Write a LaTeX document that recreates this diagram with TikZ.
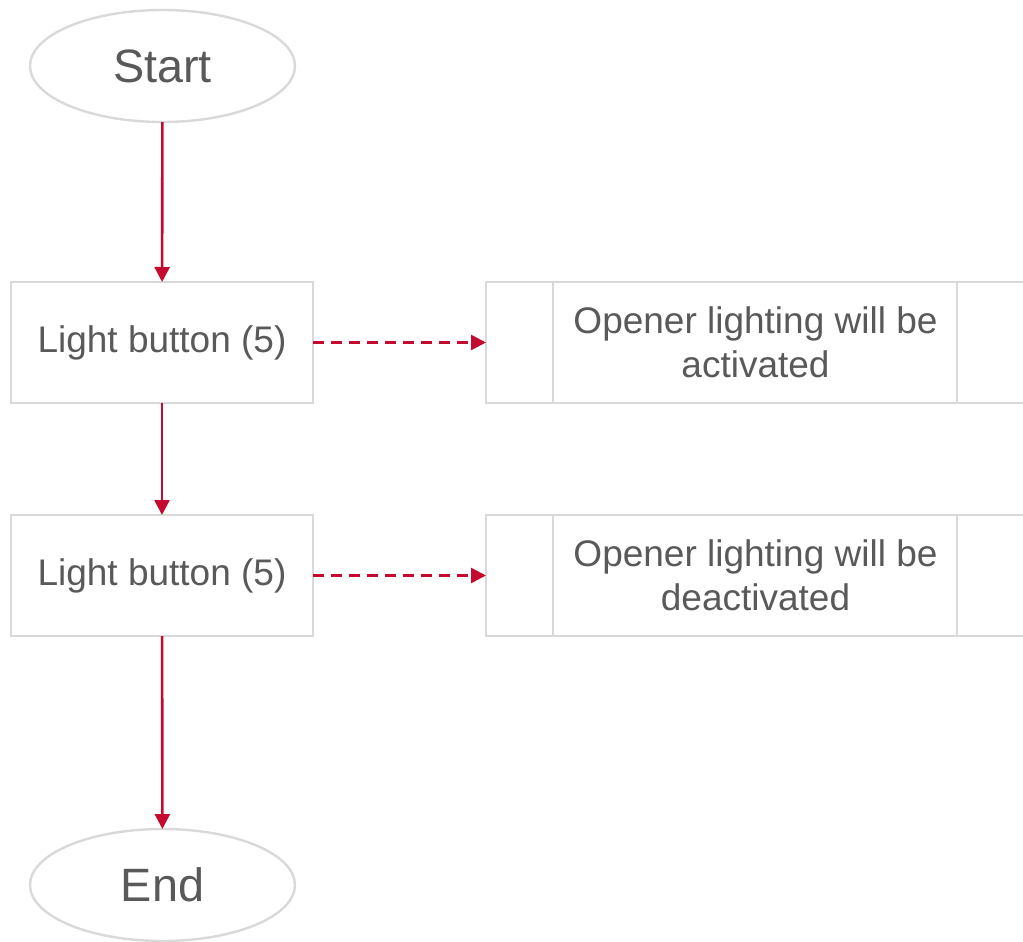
\documentclass[tikz,border=0pt]{standalone}
\usepackage{fontspec}
\setmainfont{Liberation Sans}
\usetikzlibrary{shapes.geometric,arrows.meta}
\definecolor{boxgray}{HTML}{D9D9D9}
\definecolor{textgray}{HTML}{595959}
\definecolor{flowred}{HTML}{C40A2E}
\tikzset{
  terminal/.style={ellipse, draw=boxgray, line width=1.2pt, text=textgray, outer sep=0pt,
    minimum width=132.5pt, minimum height=56pt, font=\fontsize{23.4}{28}\selectfont},
  stepbox/.style={rectangle, draw=boxgray, line width=1.2pt, text=textgray, outer sep=0pt,
    minimum width=151pt, minimum height=60.5pt, font=\fontsize{18.5}{22}\selectfont},
  procbox/.style={stepbox, minimum width=269.5pt, align=center},
  flow/.style={->, flowred, line width=1.3pt},
  signal/.style={flow, dash pattern=on 5.5pt off 3.5pt}
}
\begin{document}
\begin{tikzpicture}[x=0.5pt, y=-0.5pt, >={Triangle[length=7.5pt,width=7.5pt]}]
\useasboundingbox (0,0) rectangle (1023,942);
\node[terminal] (start) at (162.5,66) {Start};
\node[stepbox] (light1) at (162,342.5) {Light button (5)};
\node[stepbox] (light2) at (162,575.5) {Light button (5)};
\node[terminal] (end) at (162.5,885) {End};

\node[procbox] (act) at (755.5,342.5) {Opener lighting will be\\activated};
\node[procbox] (deact) at (755.5,575.5) {Opener lighting will be\\deactivated};
% inner bars of the process boxes
\foreach \p in {act, deact}{
  \draw[boxgray, line width=1.2pt] ([xshift=33.5pt]\p.north west) -- ([xshift=33.5pt]\p.south west);
  \draw[boxgray, line width=1.2pt] ([xshift=-34pt]\p.north east) -- ([xshift=-34pt]\p.south east);
}

\draw[flow] (start) -- (light1);
\draw[flow] (light1) -- (light2);
\draw[flow] (light2) -- (end);
\draw[signal] (light1) -- (act);
\draw[signal] (light2) -- (deact);
\end{tikzpicture}
\end{document}
